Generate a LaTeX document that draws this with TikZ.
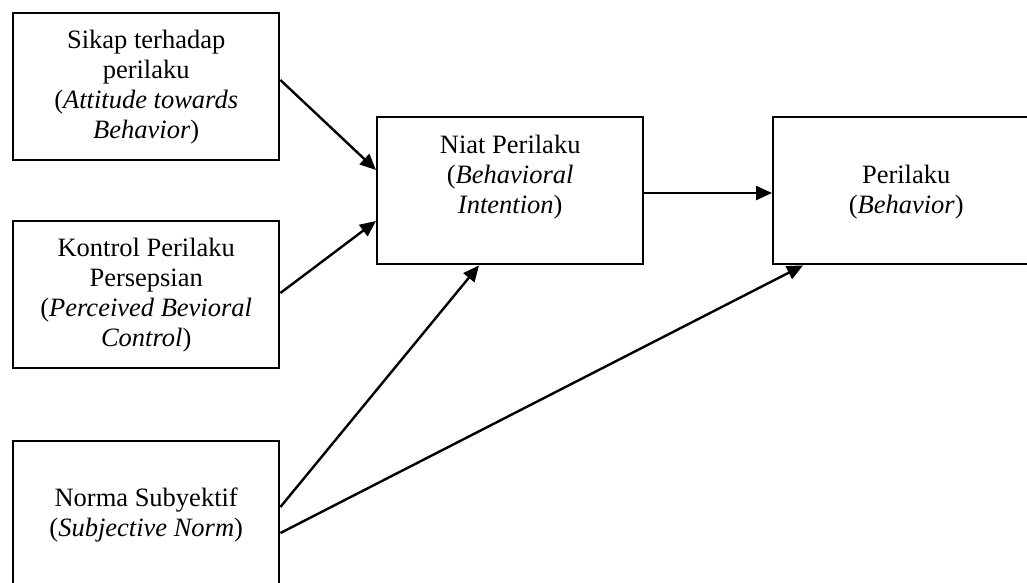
\documentclass[tikz,border=0pt]{standalone}
\usepackage{fontspec}
\setmainfont{Liberation Serif}
\usetikzlibrary{calc,arrows.meta}
% fixed-size, top-aligned box body: #1 height, #2 first baseline offset, #3 text
\newcommand\boxbody[3]{\parbox[c][#1][t]{266pt}{\centering\fontsize{26.5}{30}\selectfont\rule{0pt}{#2}#3\par}}
\begin{document}
\begin{tikzpicture}[x=1pt,y=-1pt,
  diagbox/.style={draw, line width=2.4pt, inner sep=0pt, anchor=north west},
  conn/.style={line width=2.4pt, -{Triangle[length=16pt,width=14pt]}}]
\useasboundingbox (0,0) rectangle (1027,583);
\fill[white] (0,0) rectangle (1027,583);
\clip (0,0) rectangle (1027,583);

\node[diagbox] (att) at (12,12)
  {\boxbody{147pt}{35pt}{Sikap terhadap\\perilaku\\(\textit{Attitude towards}\\\textit{Behavior})}};
\node[diagbox] (pbc) at (12,220)
  {\boxbody{147pt}{35pt}{Kontrol Perilaku\\Persepsian\\(\textit{Perceived Bevioral}\\\textit{Control})}};
\node[diagbox] (sn) at (12,440)
  {\boxbody{170pt}{65pt}{Norma Subyektif\\(\textit{Subjective Norm})}};
\node[diagbox] (bi) at (376,116)
  {\boxbody{147pt}{36pt}{Niat Perilaku\\(\textit{Behavioral}\\\textit{Intention})}};
\node[diagbox] (beh) at (772,116)
  {\boxbody{147pt}{66pt}{Perilaku\\(\textit{Behavior})}};

\draw[conn] ($(att.north east)+(0,68)$) -- ($(bi.north west)+(0,54)$);
\draw[conn] ($(pbc.north east)+(0,73)$) -- ($(bi.north west)+(0,105)$);
\draw[conn] ($(sn.north east)+(0,67)$) -- ($(bi.south west)+(103,0)$);
\draw[conn] ($(sn.north east)+(0,93)$) -- ($(beh.south west)+(31,0)$);
\draw[conn] ($(bi.north east)+(0,77)$) -- ($(beh.north west)+(0,77)$);
\end{tikzpicture}
\end{document}
